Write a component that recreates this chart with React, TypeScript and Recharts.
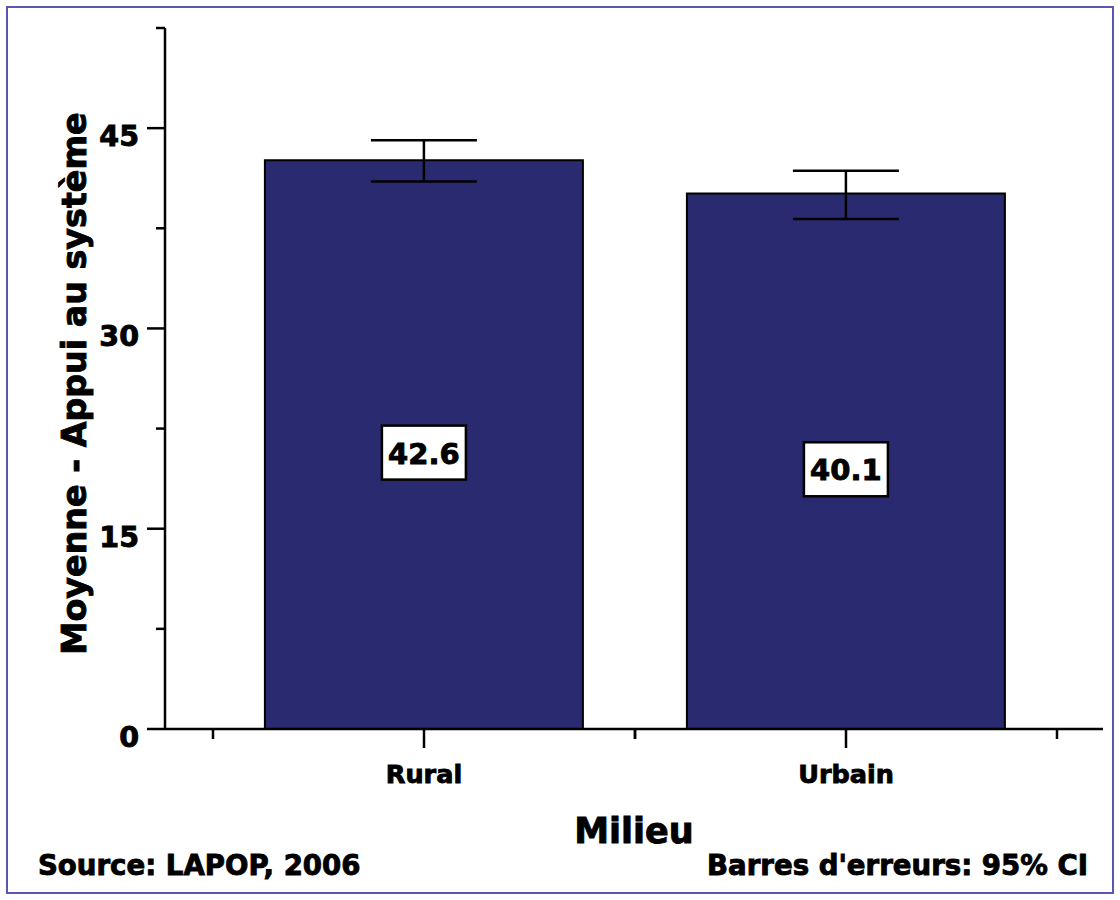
import React from 'react';
import { BarChart, Bar, XAxis, YAxis, ErrorBar, LabelList } from 'recharts';

const categories = ['Rural', 'Urbain'];
const means = [42.6, 40.1];
const ciLow = [41.0, 38.2];
const ciHigh = [44.1, 41.8];
const yTicks = [0, 7.5, 15, 22.5, 30, 37.5, 45, 52.5];
const yLabeledTicks = [0, 15, 30, 45];

const data = categories.map((c, i) => ({
  name: c,
  mean: means[i],
  err: [+(means[i] - ciLow[i]).toFixed(2), +(ciHigh[i] - means[i]).toFixed(2)],
}));

const FONT = '"DejaVu Sans", Arial, sans-serif';
const BAR_FILL = '#2a2a70';
const heavy = { stroke: '#000', strokeWidth: 0.9, paintOrder: 'stroke' as const };

const YTick = (props: any) => {
  const { x, y, payload } = props;
  const major = yLabeledTicks.includes(payload.value);
  return (
    <g>
      <line x1={x} x2={x - (major ? 18 : 9)} y1={y} y2={y} stroke="#000" strokeWidth={2.5} />
      {major && (
        <text x={x - 26} y={y + 18} textAnchor="end" fontFamily={FONT} fontWeight="bold" fontSize={28.5} fill="#000" {...heavy}>
          {payload.value}
        </text>
      )}
    </g>
  );
};

const XTick = (props: any) => {
  const { x, y, payload } = props;
  const off = typeof payload.offset === 'number' && payload.offset > 1 ? payload.offset : 211;
  return (
    <g>
      <line x1={x} x2={x} y1={y} y2={y + 19} stroke="#000" strokeWidth={2.5} />
      <line x1={x - off} x2={x - off} y1={y} y2={y + 10} stroke="#000" strokeWidth={2.5} />
      <line x1={x + off} x2={x + off} y1={y} y2={y + 10} stroke="#000" strokeWidth={2.5} />
      <text x={x} y={y + 54} textAnchor="middle" fontFamily={FONT} fontWeight="bold" fontSize={25.5} fill="#000" {...heavy}>
        {payload.value}
      </text>
    </g>
  );
};

const ValueLabel = (props: any) => {
  const { x, y, width, height, value } = props;
  const cx = x + width / 2;
  const cy = y + height / 2 + 8;
  return (
    <g>
      <rect x={cx - 42} y={cy - 27} width={84} height={54} fill="#fff" stroke="#000" strokeWidth={2.5} />
      <text x={cx} y={cy + 11} textAnchor="middle" fontFamily={FONT} fontWeight="bold" fontSize={29} fill="#000" {...heavy}>
        {value}
      </text>
    </g>
  );
};

const YLabel = (props: any) => {
  const { viewBox } = props;
  const cx = viewBox.x + 86;
  const cy = viewBox.y + viewBox.height / 2 + 5;
  return (
    <text
      x={cx}
      y={cy}
      transform={`rotate(-90, ${cx}, ${cy})`}
      textAnchor="middle"
      fontFamily={FONT}
      fontWeight="bold"
      fontSize={33.3}
      fill="#000"
      {...heavy}
    >
      Moyenne - Appui au système
    </text>
  );
};

const XLabel = (props: any) => {
  const { viewBox } = props;
  const cx = viewBox.x + viewBox.width / 2;
  const top = viewBox.y;
  return (
    <g>
      <text x={cx} y={top + 114} textAnchor="middle" fontFamily={FONT} fontWeight="bold" fontSize={35} fill="#000" {...heavy}>
        Milieu
      </text>
      <text x={38} y={top + 146} textAnchor="start" fontFamily={FONT} fontWeight="bold" fontSize={27.6} fill="#000" {...heavy}>
        Source: LAPOP, 2006
      </text>
      <text x={1088} y={top + 146} textAnchor="end" fontFamily={FONT} fontWeight="bold" fontSize={27.6} fill="#000" {...heavy}>
        Barres d'erreurs: 95% CI
      </text>
    </g>
  );
};

export default function App() {
  return (
    <div style={{ position: 'absolute', left: 0, top: 0, width: 1120, height: 900, background: '#fff' }}>
      <BarChart
        width={1120}
        height={900}
        data={data}
        margin={{ top: 28, right: 17, left: 0, bottom: 0 }}
        barCategoryGap="12.3%"
      >
        <XAxis
          dataKey="name"
          height={171}
          padding={{ left: 48, right: 46 }}
          axisLine={{ stroke: '#000', strokeWidth: 2.5 }}
          tickLine={false}
          tickSize={0}
          tickMargin={0}
          tick={<XTick />}
          interval={0}
          label={<XLabel />}
        />
        <YAxis
          width={165}
          domain={[0, 52.5]}
          ticks={yTicks}
          interval={0}
          axisLine={{ stroke: '#000', strokeWidth: 2.5 }}
          tickLine={false}
          tickSize={0}
          tickMargin={0}
          tick={<YTick />}
          label={<YLabel />}
        />
        <Bar dataKey="mean" fill={BAR_FILL} stroke="#000" strokeWidth={2} isAnimationActive={false}>
          <ErrorBar dataKey="err" width={53} stroke="#000" strokeWidth={2.5} direction="y" isAnimationActive={false} />
          <LabelList dataKey="mean" content={<ValueLabel />} />
        </Bar>
      </BarChart>
      <div
        style={{
          position: 'absolute',
          left: 6,
          top: 6,
          width: 1108,
          height: 888,
          border: '2px solid #5b55b3',
          boxSizing: 'border-box',
          pointerEvents: 'none',
        }}
      />
    </div>
  );
}
